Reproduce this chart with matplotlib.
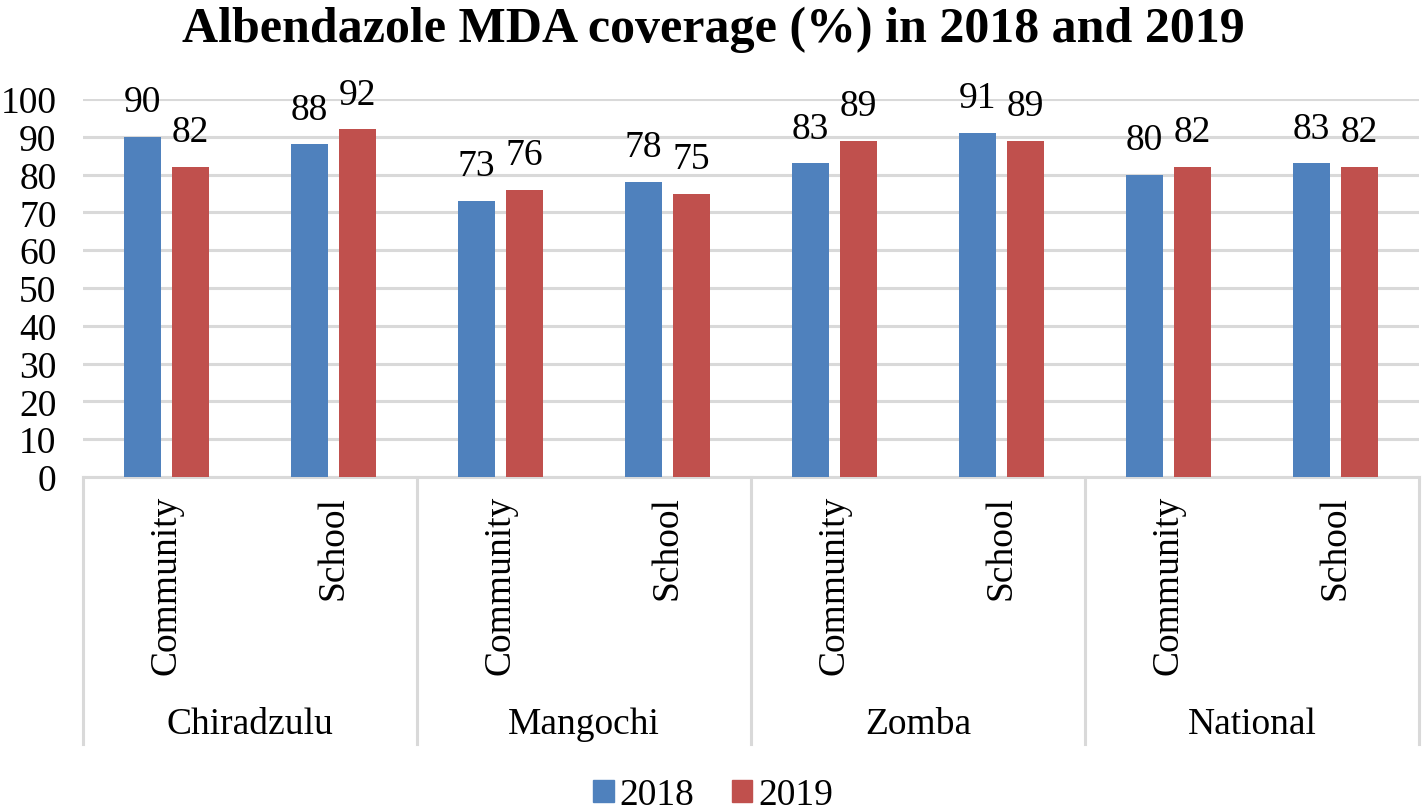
import matplotlib
matplotlib.use("Agg")
import matplotlib.pyplot as plt
import matplotlib.transforms as mtransforms
from matplotlib.patches import Patch

districts = ["Chiradzulu", "Mangochi", "Zomba", "National"]
settings = ["Community", "School"]
values_2018 = [90, 88, 73, 78, 83, 91, 80, 83]
values_2019 = [82, 92, 76, 75, 89, 89, 82, 82]
series_names = ["2018", "2019"]
yticks = [0, 10, 20, 30, 40, 50, 60, 70, 80, 90, 100]

c2018 = "#4F81BD"
c2019 = "#C0504D"
grid_c = "#D9D9D9"
fs = 27

plt.rcParams["font.family"] = ["Liberation Serif", "DejaVu Serif"]

fig = plt.figure(figsize=(14.24, 8.12), dpi=100)
ax = fig.add_axes([83/1424, (812-478)/812, (1419-83)/1424, (478-100)/812])

n = len(values_2018)
x = list(range(n))
bw = 0.222
off = 0.144
b1 = ax.bar([i - off for i in x], values_2018, width=bw, color=c2018, zorder=3)
b2 = ax.bar([i + off for i in x], values_2019, width=bw, color=c2019, zorder=3)

for bars, vals in ((b1, values_2018), (b2, values_2019)):
    for rect, v in zip(bars, vals):
        ax.annotate(f"{v}", (rect.get_x() + rect.get_width()/2, v),
                    xytext=(0, 18.5), textcoords="offset points",
                    ha="center", va="baseline", fontsize=fs, clip_on=False)

ax.set_xlim(-0.5, n - 0.5)
ax.set_ylim(0, 100)
ax.set_yticks(yticks)
ax.set_yticklabels([str(t) for t in yticks], fontsize=fs)
ax.tick_params(axis="y", length=0, pad=19)
ax.set_xticks([])
ax.yaxis.grid(True, color=grid_c, linewidth=2.2, zorder=0)
for s in ["top", "right", "left"]:
    ax.spines[s].set_visible(False)
ax.spines["bottom"].set_color(grid_c)
ax.spines["bottom"].set_linewidth(2.2)

trans = mtransforms.blended_transform_factory(ax.transData, ax.transAxes)
ybot = (478 - 745) / 378
for sx in [-0.5, 1.5, 3.5, 5.5, 7.5]:
    ax.plot([sx, sx], [0, ybot], transform=trans, color=grid_c,
            linewidth=2.2, clip_on=False)

ysub = (478 - 496) / 378
for i in x:
    ax.text(i, ysub, settings[i % 2], transform=trans, rotation=90,
            ha="center", va="top", fontsize=fs)

ygrp = (478 - 725) / 378
for g, name in enumerate(districts):
    ax.text(2*g + 0.5, ygrp, name, transform=trans, ha="center",
            va="center", fontsize=fs)

fig.text(713/1424, 1 - 30/812, "Albendazole MDA coverage (%) in 2018 and 2019",
         ha="center", va="center", fontsize=36, fontweight="bold")

handles = [Patch(color=c2018, label=series_names[0]),
           Patch(color=c2019, label=series_names[1])]
fig.legend(handles=handles, loc="center", bbox_to_anchor=(713/1424, 1 - 796/812),
           ncol=2, frameon=False, fontsize=fs, handlelength=0.55, handleheight=0.55,
           handletextpad=0.15, columnspacing=1.0, borderpad=0)

fig.savefig("out.png", dpi=100)
